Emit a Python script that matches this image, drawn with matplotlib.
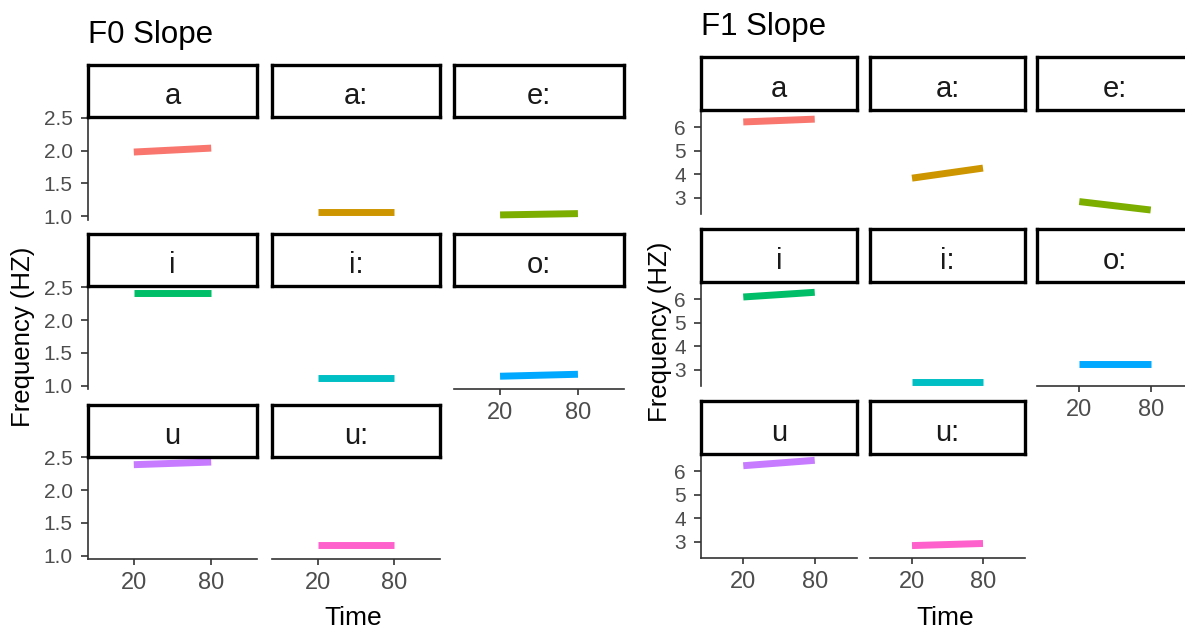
import matplotlib
matplotlib.use("Agg")
import matplotlib.pyplot as plt

plt.rcParams["font.family"] = ["Liberation Sans", "DejaVu Sans"]

vowels = ["a", "a:", "e:", "i", "i:", "o:", "u", "u:"]
colors = ["#F8766D", "#CD9600", "#7CAE00", "#00BE67",
          "#00BFC4", "#00A9FF", "#C77CFF", "#FF61CC"]
time_pts = [20, 80]

# F0 slope, value at time 20 and at time 80
f0_start = [1.98, 1.06, 1.02, 2.42, 1.12, 1.145, 2.39, 1.16]
f0_end = [2.04, 1.06, 1.04, 2.42, 1.12, 1.175, 2.43, 1.16]

# F1 slope
f1_start = [6.23, 3.83, 2.83, 6.10, 2.45, 3.24, 6.24, 2.83]
f1_end = [6.35, 4.26, 2.47, 6.30, 2.45, 3.24, 6.47, 2.92]

f0_ticks = [1.0, 1.5, 2.0, 2.5]
f0_ticklabels = ["1.0", "1.5", "2.0", "2.5"]
f1_ticks = [3, 4, 5, 6]
f1_ticklabels = ["3", "4", "5", "6"]

W, H = 1185, 630
fig = plt.figure(figsize=(W / 100, H / 100), dpi=100)
fig.patch.set_facecolor("white")

TICK_COLOR = "#4d4d4d"
AXIS_COLOR = "#333333"


def px_axes(x0, y0, x1, y1):
    return fig.add_axes([x0 / W, 1 - y1 / H, (x1 - x0) / W, (y1 - y0) / H])


def facet_grid(cols, strip_tops, strip_h, panel_h, starts, ends, ylim,
               yticks, yticklabels, title, title_xy, ylabel_xy, xlabel_xy):
    for k, name in enumerate(vowels):
        row, col = divmod(k, 3)
        x0, x1 = cols[col]
        st = strip_tops[row]

        ax = px_axes(x0, st + strip_h, x1, st + strip_h + panel_h)
        ax.plot(time_pts, [starts[k], ends[k]], color=colors[k],
                linewidth=5, solid_capstyle="butt")
        ax.set_xlim(-15.5, 115.5)
        ax.set_ylim(*ylim)
        for s in ("top", "right"):
            ax.spines[s].set_visible(False)
        for s in ("left", "bottom"):
            ax.spines[s].set_color(AXIS_COLOR)
            ax.spines[s].set_linewidth(1.2)

        # y axis only on first column
        if col == 0:
            ax.set_yticks(yticks)
            ax.set_yticklabels(yticklabels)
        else:
            ax.spines["left"].set_visible(False)
            ax.set_yticks([])

        # x axis only on last panel of each column
        last_in_col = (k + 3) >= len(vowels)
        if last_in_col:
            ax.set_xticks(time_pts)
            ax.set_xticklabels([str(t) for t in time_pts])
        else:
            ax.spines["bottom"].set_visible(False)
            ax.set_xticks([])

        ax.tick_params(axis="y", colors=AXIS_COLOR, labelcolor=TICK_COLOR,
                       labelsize=15, length=5, width=1.2, pad=6)
        ax.tick_params(axis="x", colors=AXIS_COLOR, labelcolor=TICK_COLOR,
                       labelsize=17, length=4.3, width=1.2, pad=5.4)
        ax.patch.set_alpha(0)

        sax = px_axes(x0, st, x1, st + strip_h)
        sax.set_xticks([])
        sax.set_yticks([])
        for s in sax.spines.values():
            s.set_linewidth(2.4)
            s.set_color("black")
        sax.text(0.5, 0.25, name, ha="center", va="baseline",
                 fontsize=21, color="#1a1a1a", transform=sax.transAxes)

    fig.text(title_xy[0] / W, 1 - title_xy[1] / H, title, fontsize=22.5,
             ha="left", va="baseline", color="black")
    fig.text(ylabel_xy[0] / W, 1 - ylabel_xy[1] / H, "Frequency (HZ)",
             fontsize=18.5, rotation=90, ha="center", va="center",
             color="black")
    fig.text(xlabel_xy[0] / W, 1 - xlabel_xy[1] / H, "Time", fontsize=19,
             ha="center", va="baseline", color="black")


facet_grid(cols=[(88, 257), (272, 440), (454, 624)],
           strip_tops=[65, 234.5, 404.5], strip_h=52, panel_h=102.5,
           starts=f0_start, ends=f0_end, ylim=(0.95, 2.515),
           yticks=f0_ticks, yticklabels=f0_ticklabels,
           title="F0 Slope", title_xy=(88, 43),
           ylabel_xy=(23, 337), xlabel_xy=(353, 625))

facet_grid(cols=[(701, 857), (870, 1025), (1037, 1193)],
           strip_tops=[57, 229, 401], strip_h=53, panel_h=104,
           starts=f1_start, ends=f1_end, ylim=(2.3, 6.74),
           yticks=f1_ticks, yticklabels=f1_ticklabels,
           title="F1 Slope", title_xy=(701, 35),
           ylabel_xy=(660, 332), xlabel_xy=(945, 625))

fig.savefig("out.png", dpi=100, facecolor="white")
